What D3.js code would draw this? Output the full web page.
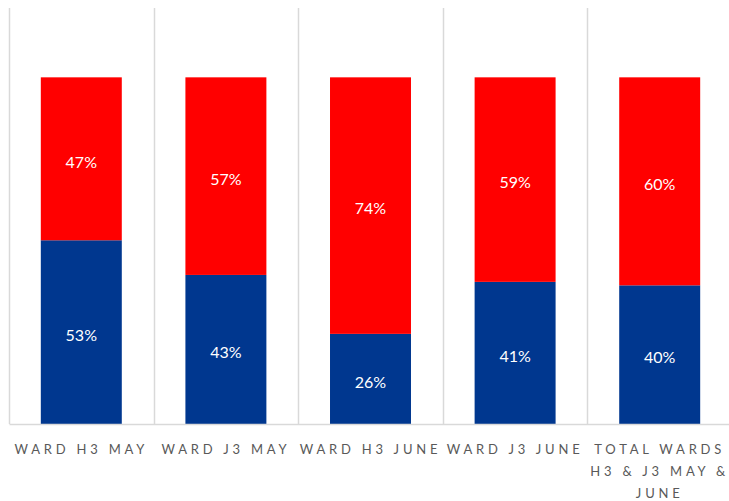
<!DOCTYPE html>
<html>
<head>
<meta charset="utf-8">
<script src="https://cdn.jsdelivr.net/npm/d3@7/dist/d3.min.js"></script>
<style>
  html, body { margin: 0; padding: 0; background: #fff; }
  svg { display: block; }
</style>
</head>
<body>
<script>
// Wards and the share of each answer (bottom = blue, top = red)
const categories = ["WARD H3 MAY", "WARD J3 MAY", "WARD H3 JUNE", "WARD J3 JUNE", "TOTAL WARDS H3 & J3 MAY & JUNE"];
const blueValues = [0.53, 0.43, 0.26, 0.41, 0.40];
const redValues  = [0.47, 0.57, 0.74, 0.59, 0.60];
const seriesKeys = ["blue", "red"];

const W = 729, H = 501;
const margin = { top: 8, right: -3, bottom: 77, left: 9 };
const innerW = W - margin.left - margin.right;
const innerH = H - margin.top - margin.bottom;

const colors = { blue: "#00378F", red: "#FF0000" };

const svg = d3.select("body").append("svg").attr("width", W).attr("height", H);
const g = svg.append("g").attr("transform", `translate(${margin.left},${margin.top})`);

const x = d3.scaleBand().domain(categories).range([0, innerW]).paddingInner(0).paddingOuter(0);
const y = d3.scaleLinear().domain([0, 1.2]).range([innerH, 0]);

const rows = categories.map((c, i) => ({ cat: c, blue: blueValues[i], red: redValues[i] }));
const stacked = d3.stack().keys(seriesKeys)(rows);

// vertical separators between categories
g.append("g").selectAll("line")
  .data(categories)
  .join("line")
  .attr("x1", d => Math.round(x(d)) + 0.5)
  .attr("x2", d => Math.round(x(d)) + 0.5)
  .attr("y1", 0)
  .attr("y2", innerH)
  .attr("stroke", "#d9d9d9")
  .attr("stroke-width", 1.5);

const barW = x.bandwidth() * 0.56;

const layers = g.append("g").selectAll("g")
  .data(stacked)
  .join("g")
  .attr("fill", d => colors[d.key]);

layers.selectAll("rect")
  .data(d => d)
  .join("rect")
  .attr("x", d => x(d.data.cat) + (x.bandwidth() - barW) / 2)
  .attr("width", barW)
  .attr("y", d => y(d[1]))
  .attr("height", d => y(d[0]) - y(d[1]));

// value labels in each segment
layers.selectAll("text")
  .data(d => d)
  .join("text")
  .attr("x", d => x(d.data.cat) + x.bandwidth() / 2)
  .attr("y", d => (y(d[0]) + y(d[1])) / 2 + 3)
  .attr("dy", "0.36em")
  .attr("text-anchor", "middle")
  .attr("fill", "#fff")
  .attr("font-family", "Lato, 'Open Sans', sans-serif")
  .attr("font-size", 16)
  .text(d => Math.round((d[1] - d[0]) * 100) + "%");

// bottom axis
const xAxis = g.append("g")
  .attr("transform", `translate(0,${innerH})`)
  .call(d3.axisBottom(x).tickSize(0).tickPadding(21));
xAxis.select(".domain").attr("stroke", "#d9d9d9").attr("stroke-width", 1.5);
xAxis.selectAll(".tick text")
  .attr("fill", "#595959")
  .attr("font-family", "Lato, 'Open Sans', sans-serif")
  .attr("font-size", 13)
  .attr("letter-spacing", "3.8px")
  .call(wrap, x.bandwidth() + 2);

function wrap(texts, width) {
  texts.each(function () {
    const text = d3.select(this);
    const words = text.text().split(/\s+/);
    const yPos = text.attr("y");
    const dy = parseFloat(text.attr("dy")) || 0;
    text.text(null);
    let line = [];
    let lineNo = 0;
    let tspan = text.append("tspan").attr("x", 0).attr("y", yPos).attr("dy", dy + "em");
    for (const w of words) {
      line.push(w);
      tspan.text(line.join(" "));
      if (tspan.node().getComputedTextLength() > width && line.length > 1) {
        line.pop();
        tspan.text(line.join(" "));
        line = [w];
        lineNo++;
        tspan = text.append("tspan").attr("x", 0).attr("y", yPos)
          .attr("dy", (lineNo * 1.67 + dy) + "em").text(w);
      }
    }
  });
}
</script>
</body>
</html>
